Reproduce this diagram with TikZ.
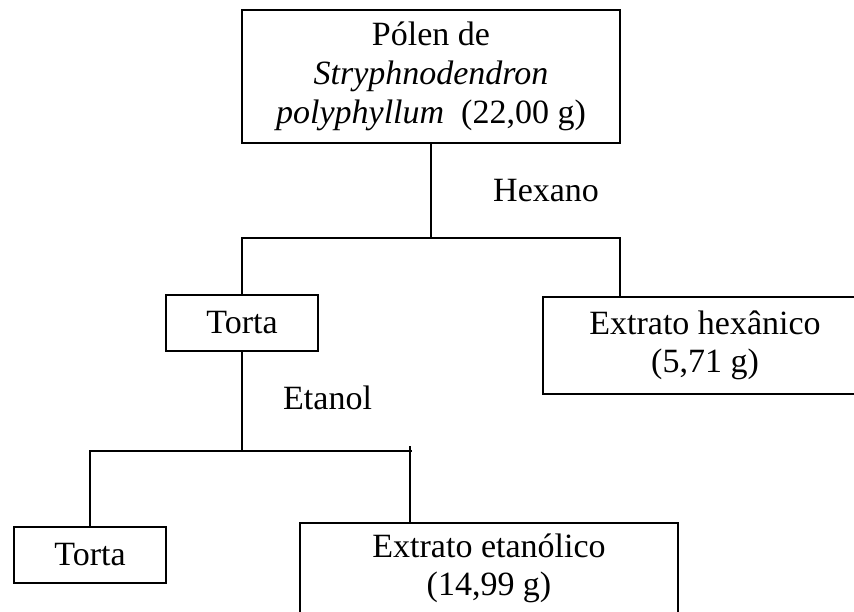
\documentclass[tikz,border=0pt]{standalone}
\usepackage{fontspec}
\setmainfont{Liberation Serif}
\tikzset{
  caixa/.style={draw, line width=1.4pt, align=center, inner sep=0pt,
    font=\fontsize{34}{38}\selectfont},
  rotulo/.style={anchor=base west, inner sep=0pt, font=\fontsize{34}{38}\selectfont},
  liga/.style={line width=1.4pt}
}
\begin{document}
\begin{tikzpicture}[x=1pt,y=-1pt]
        \useasboundingbox (0,0) rectangle (854,612);
        \node[caixa, minimum width=378pt, minimum height=133pt] (polen) at (431,76.5)
            {Pólen de\\[1pt] \textit{Stryphnodendron}\\[1pt] \textit{polyphyllum}\ \ (22,00 g)};
        \node[caixa, minimum width=152pt, minimum height=56pt] (torta1) at (242,323) {Torta};
        \node[caixa, minimum width=324pt, minimum height=97pt] (hexa) at (705,345.5)
            {Extrato hexânico\\ (5,71 g)};
        \node[caixa, minimum width=152pt, minimum height=56pt] (torta2) at (90,555) {Torta};
        \node[caixa, minimum width=378pt, minimum height=90pt] (etanolico) at (489,568)
            {Extrato etanólico\\ (14,99 g)};
        \node[rotulo] (hexano) at (493,202) {Hexano};
        \node[rotulo] (etanol) at (283,409) {Etanol};
        \coordinate (h1e) at (242,238);
        \coordinate (h1d) at (620,238);
        \coordinate (h2e) at (90,451);
        \coordinate (h2d) at (412,451);
        \coordinate (h2t) at (410,446);
        \draw[liga] (polen.south) -- (polen.south |- h1e);
        \draw[liga] (torta1.north) -- (h1e) -- (h1d) -- (h1d |- hexa.north);
        \draw[liga] (torta1.south) -- (torta1.south |- h2e);
        \draw[liga] (torta2.north) -- (h2e) -- (h2d);
        \draw[liga] (h2t) -- (h2t |- etanolico.north);
    \end{tikzpicture}
\end{document}
